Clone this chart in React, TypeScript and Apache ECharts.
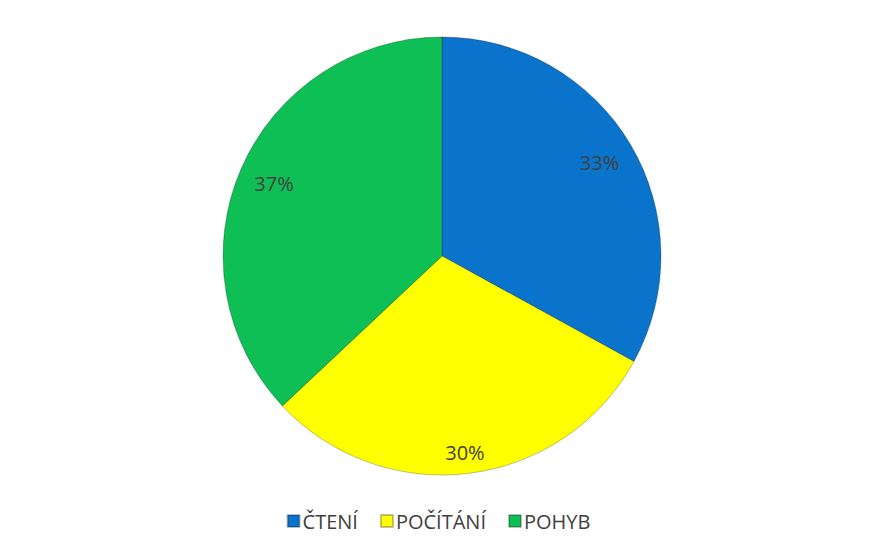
import React, { useEffect, useRef } from "react";
import * as echarts from "echarts";

const categories = ["ČTENÍ", "POČÍTÁNÍ", "POHYB"];
const values = [33, 30, 37];
const colors = ["#0a73cc", "#ffff00", "#0dbf55"];

export default function App() {
  const ref = useRef<HTMLDivElement>(null);
  useEffect(() => {
    if (!ref.current) return;
    const chart = echarts.init(ref.current, undefined, { renderer: "svg" });
    const data = categories.map((name, i) => ({
      name,
      value: values[i],
      itemStyle: { color: colors[i] },
    }));
    chart.setOption({
      animation: false,
      backgroundColor: "#ffffff",
      legend: {
        bottom: 9,
        left: "center",
        icon: "rect",
        itemWidth: 12,
        itemHeight: 12,
        itemGap: 22,
        data: categories,
        textStyle: {
          fontFamily: "Open Sans",
          fontSize: 20,
          color: "#404040",
          padding: [0, 0, 0, -2],
        },
      },
      series: [
        {
          type: "pie",
          center: [442, 256],
          radius: [0, 219],
          startAngle: 90,
          clockwise: true,
          label: { show: false },
          labelLine: { show: false },
          itemStyle: { borderColor: "rgba(0,0,0,0.25)", borderWidth: 1 },
          emphasis: { disabled: true },
          data,
        },
        {
          type: "pie",
          center: [442, 256],
          radius: [141, 219],
          startAngle: 90,
          clockwise: true,
          silent: true,
          legendHoverLink: false,
          itemStyle: { color: "rgba(0,0,0,0)" },
          label: {
            show: true,
            position: "inside",
            formatter: "{d}%",
            fontFamily: "Open Sans",
            fontSize: 20,
            color: "#404040",
          },
          labelLine: { show: false },
          emphasis: { disabled: true },
          data: categories.map((name, i) => ({
            name: name + " ",
            value: values[i],
            label: i === 1 ? { offset: [0, 15] } : undefined,
          })),
        },
      ],
    });
    return () => chart.dispose();
  }, []);
  return (
    <div
      ref={ref}
      style={{ position: "fixed", left: 0, top: 0, width: 877, height: 545 }}
    />
  );
}
